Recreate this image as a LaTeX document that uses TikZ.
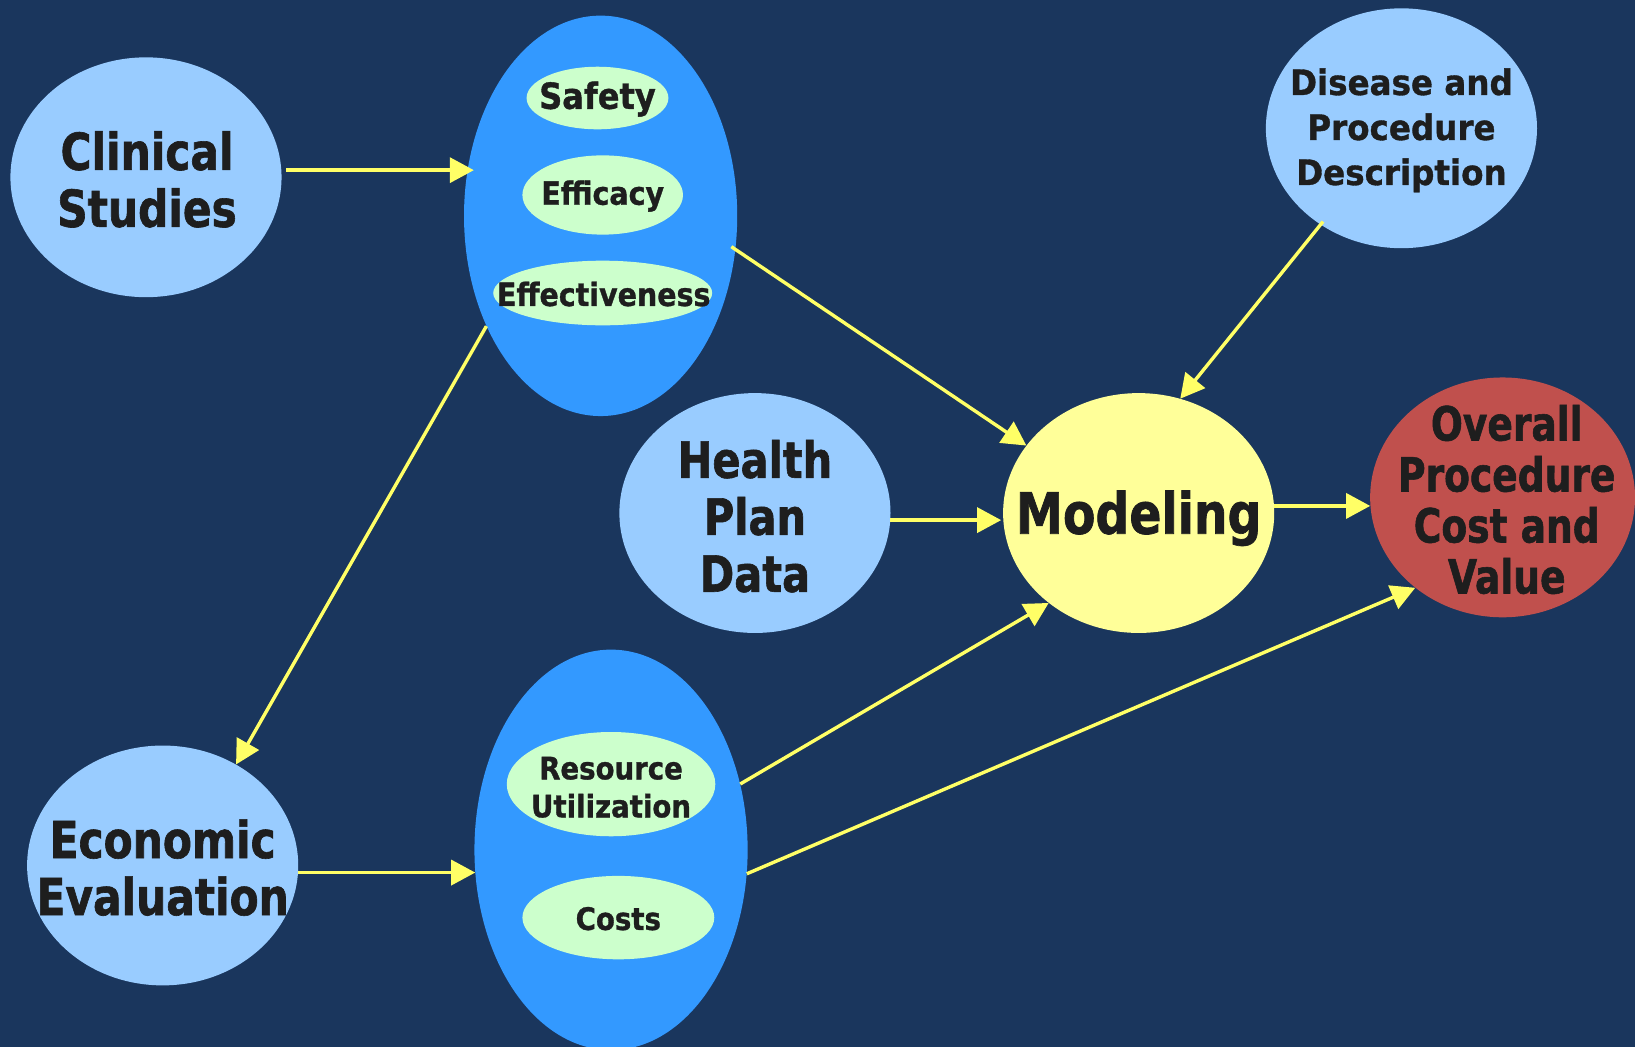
\documentclass[tikz,border=0pt]{standalone}
\usepackage{fontspec}
\usetikzlibrary{shapes.geometric,arrows.meta}
\setmainfont{DejaVu Sans}
\newfontfamily\condA[FakeStretch=0.83,FakeBold=1.2]{DejaVu Sans}
\newfontfamily\condB[FakeStretch=0.89,FakeBold=1]{DejaVu Sans}
\newfontfamily\condC[FakeStretch=0.93,FakeBold=1]{DejaVu Sans}
\newfontfamily\condD[FakeStretch=0.8,FakeBold=1.2]{DejaVu Sans}

\definecolor{navy}{RGB}{26,54,93}
\definecolor{paleblue}{RGB}{153,204,255}
\definecolor{brightblue}{RGB}{51,153,255}
\definecolor{palegreen}{RGB}{204,255,204}
\definecolor{paleyellow}{RGB}{255,255,153}
\definecolor{brick}{RGB}{192,80,77}
\definecolor{linkyellow}{RGB}{255,255,102}
\definecolor{ink}{RGB}{30,30,30}

\tikzset{
  oval/.style 2 args={ellipse, draw=none, inner sep=0pt,
    minimum width=#1*2.08546pt, minimum height=#2*2.08546pt},
  label/.style={text=ink, align=center, inner sep=0pt},
  bigtxt/.style 2 args={label, font={\condA\bfseries\fontsize{#1}{#2}\selectfont}},
  smalltxt/.style 2 args={label, font={\condB\bfseries\fontsize{#1}{#2}\selectfont}},
  link/.style={draw=linkyellow, line width=3.4pt,
    -{Triangle[length=24pt,width=25pt]}},
}

\begin{document}
\begin{tikzpicture}[x=1.04273pt, y=-1.04273pt]
  \fill[navy] (0,0) rectangle (1568,1004);
  \useasboundingbox (0,0) rectangle (1568,1004);

  % input sources
  \node[oval={130}{115}, fill=paleblue] (clin) at (140,170) {};
  \node[bigtxt={51}{57}] (clinT) at (141,172) {Clinical\\Studies};

  \node[oval={130}{115}, fill=paleblue] (econ) at (156,830) {};
  \node[bigtxt={51}{57}] (econT) at (156,832) {Economic\\Evaluation};

  \node[oval={130}{115}, fill=paleblue] (plan) at (724,492) {};
  \node[bigtxt={50}{57}] (planT) at (724,495) {Health\\Plan\\Data};

  \node[oval={130}{115}, fill=paleblue] (desc) at (1344,123) {};
  \node[label, font={\condC\bfseries\fontsize{35}{45}\selectfont}] (descT) at (1344,125)
    {Disease and\\Procedure\\Description};

  % clinical outcome group
  \node[oval={131}{192}, fill=brightblue] (outc) at (576,207) {};
  \node[oval={68}{30}, fill=palegreen] (safe) at (573,94) {};
  \node[smalltxt={36}{40}] (safeT) at (573,95) {Safety};
  \node[oval={77}{38}, fill=palegreen] (effi) at (578,187) {};
  \node[smalltxt={32}{36}] (effiT) at (578,188) {Efficacy};
  \node[oval={105}{31}, fill=palegreen] (effe) at (578,281) {};
  \node[smalltxt={32}{34}] (effeT) at (579,282) {Effectiveness};

  % economic group
  \node[oval={131}{192}, fill=brightblue] (econg) at (586,815) {};
  \node[oval={100}{50}, fill=palegreen] (res) at (586,752) {};
  \node[smalltxt={31}{38}] (resT) at (586,755) {Resource\\Utilization};
  \node[oval={92}{40}, fill=palegreen] (cost) at (593,880) {};
  \node[smalltxt={31}{36}] (costT) at (593,881) {Costs};

  % model and result
  \node[oval={130}{115}, fill=paleyellow] (model) at (1092,492) {};
  \node[bigtxt={57}{60}] (modelT) at (1092,497) {Modeling};

  \node[oval={127}{115}, fill=brick] (value) at (1441,477) {};
  \node[label, font={\condD\bfseries\fontsize{47}{51}\selectfont}]
    (valueT) at (1445,479) {Overall\\Procedure\\Cost and\\Value};

  % connectors
  \draw[link, shorten <=5pt, shorten >=-6pt] (clin.3.5) -- (clin.3.5 -| outc.160);
  \draw[link, shorten <=-5pt] (outc.-14.9) -- (model.149.9);
  \draw[link, shorten <=-4pt] (desc.230.3) -- (model.70);
  \draw[link] (outc.224.7) -- (econ.54.9);
  \draw[link, shorten >=2pt] (plan.-3.5) -- (plan.-3.5 -| model.183.5);
  \draw[link] (model.3.1) -- (model.3.1 -| value.183.6);
  \draw[link] (econ.-3.5) -- (econ.-3.5 -| econg.190);
  \draw[link] (econg.27.1) -- (model.225.3);
  \draw[link] (econg.-10) -- (value.226.7);
\end{tikzpicture}
\end{document}
